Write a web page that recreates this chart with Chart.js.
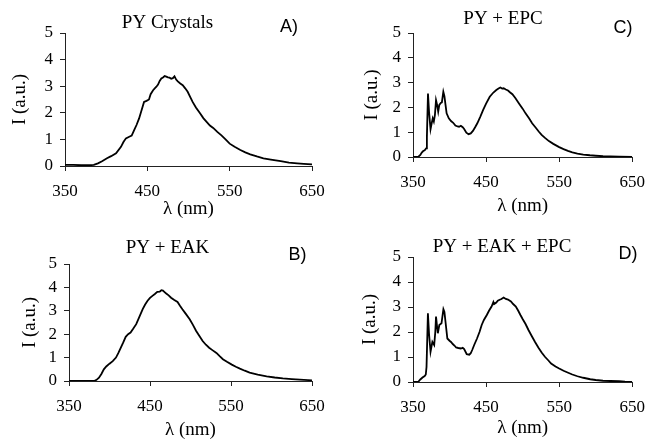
<!DOCTYPE html>
<html>
<head>
<meta charset="utf-8">
<script src="https://cdn.jsdelivr.net/npm/chart.js@4.4.1/dist/chart.umd.min.js"></script>
<style>
    html, body { margin: 0; padding: 0; background: #fff; }
    #page { position: relative; width: 655px; height: 441px; overflow: hidden; }
    #page canvas { position: absolute; left: 0; top: 0; }
</style>
</head>
<body>
<div id="page">
    <canvas id="chartA" width="655" height="441"></canvas>
    <canvas id="chartB" width="655" height="441"></canvas>
    <canvas id="chartC" width="655" height="441"></canvas>
    <canvas id="chartD" width="655" height="441"></canvas>
</div>
<script>
// values
var wavelengthA = [350, 360, 370, 380, 385, 390, 395, 401, 406, 412, 418, 421, 424, 428, 431, 434, 437, 440, 443, 446, 449, 452, 454, 457, 459, 461, 463, 465, 467, 469, 471, 473, 475, 477, 479, 481, 483, 485, 487, 490, 493, 496, 499, 502, 505, 509, 514, 518, 522, 526, 530, 535, 540, 545, 550, 556, 563, 569, 575, 583, 591, 600, 612, 622, 632, 640, 650];
var intensityA = [0.04, 0.04, 0.03, 0.03, 0.04, 0.1, 0.18, 0.29, 0.37, 0.48, 0.72, 0.9, 1.04, 1.1, 1.14, 1.35, 1.55, 1.79, 2.1, 2.41, 2.45, 2.5, 2.7, 2.85, 2.92, 2.98, 3.06, 3.2, 3.29, 3.33, 3.38, 3.36, 3.33, 3.32, 3.28, 3.3, 3.37, 3.25, 3.18, 3.1, 3.04, 2.92, 2.79, 2.6, 2.41, 2.2, 1.98, 1.8, 1.66, 1.52, 1.43, 1.28, 1.15, 1.0, 0.84, 0.72, 0.6, 0.51, 0.44, 0.36, 0.29, 0.24, 0.18, 0.13, 0.1, 0.08, 0.06];

var wavelengthB = [350, 370, 381, 384, 387, 390, 393, 396, 400, 404, 408, 411, 414, 417, 420, 423, 426, 429, 433, 437, 441, 444, 447, 450, 453, 456, 459, 462, 464, 466, 468, 470, 473, 476, 480, 484, 487, 490, 494, 499, 503, 507, 511, 515, 519, 523, 527, 532, 536, 540, 545, 551, 556, 561, 567, 573, 583, 594, 604, 614, 625, 635, 650];
var intensityB = [0, 0, 0, 0.05, 0.14, 0.3, 0.5, 0.62, 0.74, 0.85, 1.0, 1.2, 1.43, 1.65, 1.89, 2.0, 2.07, 2.22, 2.43, 2.75, 3.07, 3.27, 3.43, 3.55, 3.64, 3.72, 3.81, 3.82, 3.88, 3.86, 3.8, 3.74, 3.66, 3.56, 3.46, 3.38, 3.22, 3.07, 2.88, 2.64, 2.4, 2.14, 1.92, 1.71, 1.55, 1.42, 1.32, 1.2, 1.06, 0.93, 0.82, 0.7, 0.61, 0.53, 0.44, 0.36, 0.27, 0.2, 0.15, 0.11, 0.08, 0.06, 0.03];

var wavelengthC = [350, 357, 360, 362, 364, 366, 368, 369, 370.5, 372, 374, 375.5, 377, 378.5, 380, 381.5, 383, 384.5, 386, 388, 389.5, 391.5, 393, 394.5, 396, 399, 402, 405, 408, 411, 413, 415.5, 418, 420, 423, 426, 429, 432, 435, 438, 442, 446, 450, 455, 460, 464, 467, 469.5, 472, 474, 477, 480, 483, 486, 490, 495, 500, 504, 509, 513, 518, 522, 526, 531, 536, 542, 550, 556, 562, 568, 575, 583, 592, 600, 610, 620, 632, 650];
var intensityC = [0, 0, 0.08, 0.18, 0.24, 0.27, 0.35, 0.8, 2.56, 1.8, 1.12, 1.35, 1.56, 1.43, 1.7, 2.29, 2.1, 1.83, 2.1, 2.18, 2.2, 2.63, 2.45, 2.1, 1.76, 1.56, 1.45, 1.38, 1.27, 1.23, 1.22, 1.26, 1.2, 1.13, 0.98, 0.92, 0.95, 1.05, 1.2, 1.36, 1.62, 1.9, 2.15, 2.43, 2.6, 2.7, 2.76, 2.8, 2.76, 2.77, 2.72, 2.68, 2.6, 2.53, 2.38, 2.16, 1.95, 1.76, 1.55, 1.36, 1.18, 1.03, 0.89, 0.76, 0.64, 0.53, 0.4, 0.32, 0.25, 0.19, 0.14, 0.1, 0.07, 0.05, 0.03, 0.02, 0.01, 0];

var wavelengthD = [350, 357, 360, 363, 366, 367.5, 368.5, 370.4, 372, 374, 375.5, 376.5, 379, 380.5, 381.5, 383, 384, 386, 389, 391.6, 393, 394.5, 397, 400, 402, 404.4, 407, 409, 412, 415.5, 418, 420, 423.5, 427, 429, 431, 434, 437.6, 441, 444, 447, 451, 454, 457.5, 460, 461, 464, 466, 468.6, 471, 474, 477, 480, 484, 487, 490.7, 494, 497, 500, 504, 508, 513, 517, 521.7, 526, 530.5, 535, 539, 545, 550, 556, 561.5, 568, 575, 583, 592.5, 600, 610, 620, 632, 640, 650];
var intensityD = [0, 0, 0.1, 0.18, 0.24, 0.3, 0.6, 2.75, 1.9, 1.21, 1.45, 1.61, 1.48, 2.0, 2.62, 2.2, 1.95, 2.28, 2.35, 2.91, 2.8, 2.4, 1.74, 1.65, 1.6, 1.52, 1.45, 1.38, 1.36, 1.34, 1.37, 1.32, 1.11, 1.09, 1.15, 1.28, 1.5, 1.74, 2.0, 2.28, 2.48, 2.68, 2.85, 3.02, 3.2, 3.12, 3.18, 3.25, 3.29, 3.32, 3.38, 3.32, 3.3, 3.22, 3.12, 3.02, 2.85, 2.68, 2.52, 2.32, 2.08, 1.81, 1.6, 1.37, 1.18, 1.01, 0.87, 0.74, 0.62, 0.54, 0.45, 0.38, 0.3, 0.23, 0.17, 0.11, 0.08, 0.05, 0.04, 0.03, 0.01, 0];

var xTicks = [350, 450, 550, 650];
var yTicks = [0, 1, 2, 3, 4, 5];

var serif = "'Liberation Serif', 'Times New Roman', serif";
var sans = "'Liberation Sans', Arial, sans-serif";

// where each panel sits on the page (plot box + text spots)
var panels = {
    chartA: { left: 65, right: 312, top: 33, bottom: 166, yTitleX: 20, xTitleY: 209.5,
              title: "PY Crystals", titleX: 167.5, titleY: 27.5, letter: "A)", letterX: 289, letterY: 31.5 },
    chartB: { left: 69, right: 312, top: 264, bottom: 381, yTitleX: 30, xTitleY: 430,
              title: "PY + EAK", titleX: 167.5, titleY: 253, letter: "B)", letterX: 297.5, letterY: 260 },
    chartC: { left: 413, right: 640, top: 33, bottom: 157, yTitleX: 372.5, xTitleY: 206.5,
              title: "PY + EPC", titleX: 503, titleY: 23.5, letter: "C)", letterX: 623, letterY: 33 },
    chartD: { left: 413, right: 640, top: 257, bottom: 382, yTitleX: 370, xTitleY: 428.5,
              title: "PY + EAK + EPC", titleX: 502, titleY: 251.5, letter: "D)", letterX: 628, letterY: 259 }
};

var panelText = {
    id: 'panelText',
    afterDraw(chart, args, opts) {
        const ctx = chart.ctx;
        ctx.save();
        ctx.fillStyle = '#000';
        ctx.textAlign = 'center';
        ctx.textBaseline = 'alphabetic';
        ctx.font = '19px ' + serif;
        ctx.fillText(opts.title, opts.titleX, opts.titleY);
        ctx.font = '18px ' + sans;
        ctx.fillText(opts.letter, opts.letterX, opts.letterY);
        ctx.restore();
    }
};

function toPoints(xs, ys) {
    var pts = [];
    for (var i = 0; i < xs.length; i++) {
        pts.push({ x: xs[i], y: ys[i] });
    }
    return pts;
}

function writeChart(chartId, wavelengths, intensities) {
    const p = panels[chartId];
    const ctx = document.getElementById(chartId).getContext("2d");
    const half = 19 * 1.2 / 2;
    const padLeft = p.yTitleX - half;
    const yWidth = p.left - padLeft;
    const xHeight = p.xTitleY + half - p.bottom;

    var config = {
        type: 'line',
        data: {
            datasets: [{
                data: toPoints(wavelengths, intensities),
                borderColor: '#000',
                borderWidth: 1.8,
                pointRadius: 0,
                tension: 0,
                fill: false
            }]
        },
        options: {
            responsive: false,
            animation: false,
            devicePixelRatio: 1,
            events: [],
            layout: {
                padding: { left: padLeft, top: p.top, right: 655 - p.right, bottom: 441 - p.xTitleY - half }
            },
            plugins: {
                legend: { display: false },
                tooltip: { enabled: false },
                panelText: p
            },
            scales: {
                x: {
                    type: 'linear',
                    min: 350,
                    max: 650,
                    afterBuildTicks: (s) => { s.ticks = xTicks.map(v => ({ value: v })); },
                    afterFit: (s) => { s.height = xHeight; },
                    grid: { drawOnChartArea: false, drawTicks: true, tickLength: 5, color: '#222' },
                    border: { display: true, color: '#222', width: 1 },
                    ticks: { color: '#000', padding: 10, maxRotation: 0, font: { family: serif, size: 17 } },
                    title: { display: true, text: 'λ (nm)', color: '#000', padding: 0, font: { family: serif, size: 19 } }
                },
                y: {
                    min: 0,
                    max: 5,
                    afterBuildTicks: (s) => { s.ticks = yTicks.map(v => ({ value: v })); },
                    afterFit: (s) => { s.width = yWidth; },
                    grid: { drawOnChartArea: false, drawTicks: true, tickLength: 5, color: '#222' },
                    border: { display: true, color: '#222', width: 1 },
                    ticks: { color: '#000', padding: 7, font: { family: serif, size: 17 } },
                    title: { display: true, text: 'I (a.u.)', color: '#000', padding: 0, font: { family: serif, size: 19 } }
                }
            }
        },
        plugins: [panelText]
    };

    return new Chart(ctx, config);
}

writeChart("chartA", wavelengthA, intensityA);
writeChart("chartB", wavelengthB, intensityB);
writeChart("chartC", wavelengthC, intensityC);
writeChart("chartD", wavelengthD, intensityD);
</script>
</body>
</html>
